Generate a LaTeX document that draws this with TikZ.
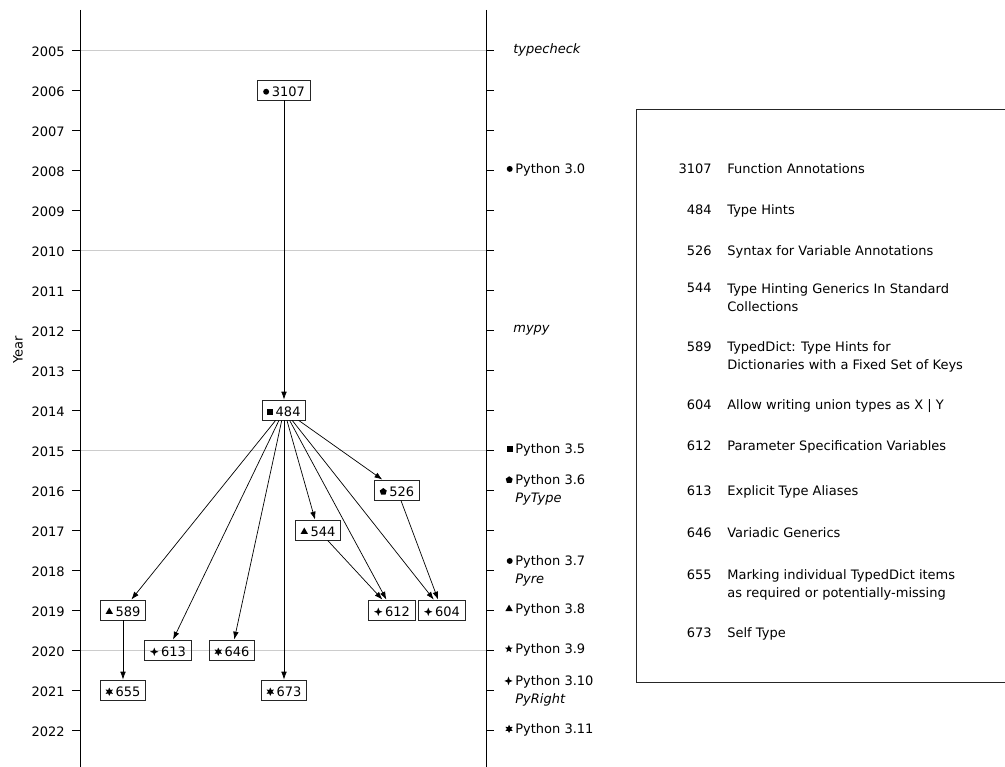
\documentclass[tikz,border=0pt]{standalone}
\usepackage{fontspec}
\setmainfont{DejaVu Sans}
\usepackage{tikz}
\usetikzlibrary{arrows.meta, shapes.geometric, positioning}

\newcommand{\figfont}{\fontsize{7.4}{10.2}\selectfont}
% small filled marker for each Python release
\newcommand{\pepmark}[1]{\tikz[baseline=-0.36em]\node[draw=none, fill=black, inner sep=0pt, #1]{};\hspace{1.5pt}}

\tikzset{
  mcirc/.style={circle, minimum size=3.4pt},
  msq/.style={rectangle, minimum size=3.2pt},
  mpent/.style={regular polygon, regular polygon sides=5, minimum size=4.2pt},
  mtri/.style={regular polygon, regular polygon sides=3, minimum size=4.8pt},
  mstarv/.style={star, star points=5, star point ratio=2.3, minimum size=4.6pt},
  mstariv/.style={star, star points=4, star point ratio=2.6, minimum size=4.8pt},
  mstarvi/.style={star, star points=6, star point ratio=2.0, minimum size=4.8pt}
}

\begin{document}
\begin{tikzpicture}[x=0.02cm, y=-0.02cm,
  pep/.style={draw=black!85, line width=0.45pt, font=\figfont, inner xsep=3pt, inner ysep=0pt,
              minimum height=0.4cm, text height=0.73em, text depth=0pt},
  arr/.style={-{Latex[length=4.5pt, width=3.2pt]}, line width=0.4pt},
  axisline/.style={line width=0.5pt},
  tickmark/.style={line width=0.45pt},
  gridline/.style={gray!40, line width=0.45pt},
  yearlbl/.style={anchor=east, font=\figfont, inner sep=0pt, text height=0.73em, text depth=0pt},
  ver/.style={anchor=west, font=\figfont, inner sep=0pt, align=left},
  legnum/.style={anchor=north east, font=\figfont, inner sep=0pt},
  legtxt/.style={anchor=north west, font=\figfont, inner sep=0pt, align=left}
]
  \useasboundingbox (0,0) rectangle (1005,767);

  % grid and axes
  \foreach \yr in {2005,2010,2015,2020}
    \draw[gridline] (80,{50+40*(\yr-2005)}) -- (486,{50+40*(\yr-2005)});
  \draw[axisline] (80,10) -- (80,767);
  \draw[axisline] (486,10) -- (486,767);

  \foreach \yr in {2005,...,2022}{
    \pgfmathsetmacro{\yy}{50+40*(\yr-2005)}
    \draw[tickmark] (72,\yy) -- (80,\yy);
    \draw[tickmark] (486,\yy) -- (494,\yy);
    \node[yearlbl] (y\yr) at (65,\yy) {\yr};
  }
  \node[rotate=90, font=\figfont] (ylabel) at (18,350) {Year};

  % releases and checkers
  \node[ver] (tc)    at (513,50)  {\textit{typecheck}};
  \node[ver] (py30)  at (515,170) {\llap{\pepmark{mcirc}}Python 3.0};
  \node[ver] (mypy)  at (513,330) {\textit{mypy}};
  \node[ver] (py35)  at (515,450) {\llap{\pepmark{msq}}Python 3.5};
  \node[ver] (py36)  at (515,490) {\llap{\pepmark{mpent}}Python 3.6\\\textit{PyType}};
  \node[ver] (py37)  at (515,571) {\llap{\pepmark{mcirc}}Python 3.7\\\textit{Pyre}};
  \node[ver] (py38)  at (515,610) {\llap{\pepmark{mtri}}Python 3.8};
  \node[ver] (py39)  at (515,650) {\llap{\pepmark{mstarv}}Python 3.9};
  \node[ver] (py310) at (515,691) {\llap{\pepmark{mstariv}}Python 3.10\\\textit{PyRight}};
  \node[ver] (py311) at (515,730) {\llap{\pepmark{mstarvi}}Python 3.11};

  % PEPs
  \node[pep] (p3107) at (284,90)  {\pepmark{mcirc}3107};
  \node[pep] (p484)  at (284,410) {\pepmark{msq}484};
  \node[pep] (p526)  at (397,490) {\pepmark{mpent}526};
  \node[pep] (p544)  at (318,530) {\pepmark{mtri}544};
  \node[pep] (p589)  at (123,610) {\pepmark{mtri}589};
  \node[pep] (p612)  at (392,610) {\pepmark{mstariv}612};
  \node[pep] (p604)  at (442,610) {\pepmark{mstariv}604};
  \node[pep] (p613)  at (168,650) {\pepmark{mstariv}613};
  \node[pep] (p646)  at (232,650) {\pepmark{mstarvi}646};
  \node[pep] (p655)  at (123,690) {\pepmark{mstarvi}655};
  \node[pep] (p673)  at (284,690) {\pepmark{mstarvi}673};

  \draw[arr] (p3107) -- (p484);
  \foreach \t in {589,613,646,673,544,612,604,526}
    \draw[arr] (p484) -- (p\t);
  \draw[arr] (p589) -- (p655);
  \draw[arr] (p544) -- (p612);
  \draw[arr] (p526) -- (p604);

  % legend (its right side runs past the page edge)
  \draw[black!85, line width=0.45pt] (636,109) rectangle (1015,682);
  \foreach \ty/\num/\txt in {
      163/3107/Function Annotations,
      204/484/Type Hints,
      245/526/Syntax for Variable Annotations,
      283/544/Type Hinting Generics In Standard\\Collections,
      341/589/TypedDict: Type Hints for\\Dictionaries with a Fixed Set of Keys,
      399/604/Allow writing union types as X | Y,
      440/612/Parameter Specification Variables,
      485/613/Explicit Type Aliases,
      527/646/Variadic Generics,
      569/655/Marking individual TypedDict items\\as required or potentially-missing,
      627/673/Self Type}{
    \node[legnum] (ln\num) at (712,\ty) {\num};
    \node[legtxt] (lt\num) at (727,\ty) {\txt};
  }
\end{tikzpicture}
\end{document}
